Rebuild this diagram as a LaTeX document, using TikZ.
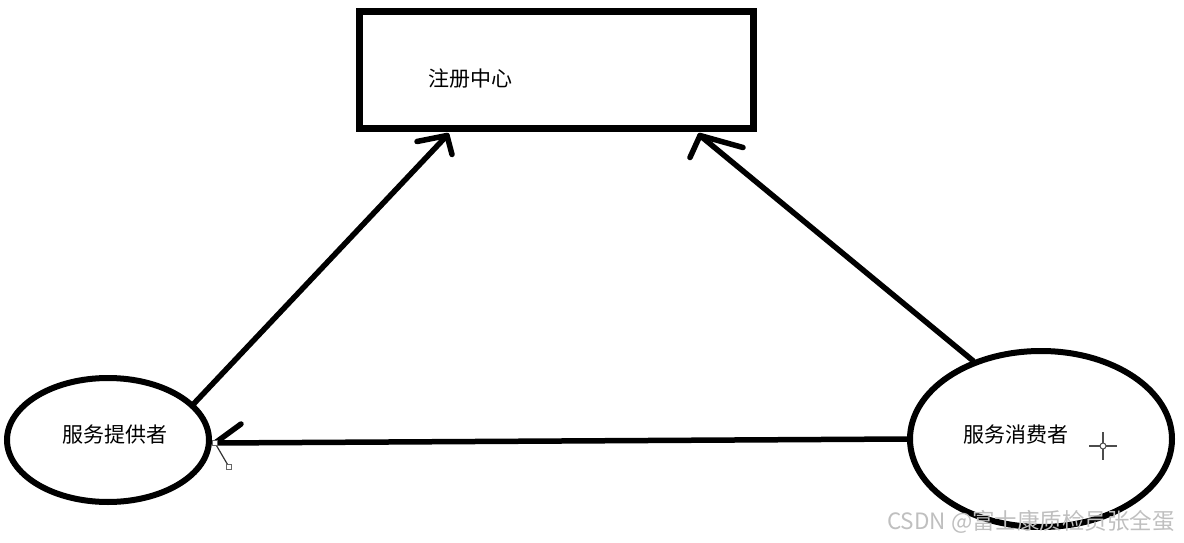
\documentclass[tikz,border=0pt]{standalone}
\usepackage{fontspec}
\newfontfamily\cjk{Noto Sans CJK SC}
\usetikzlibrary{shapes.geometric,calc}
\begin{document}
\begin{tikzpicture}[x=1pt,y=-1pt,
  box/.style={draw,line width=7pt,minimum width=394pt,minimum height=116pt,inner sep=0pt},
  oval/.style={draw,ellipse,line width=6pt,inner sep=0pt},
  lbl/.style={font=\cjk\fontsize{21}{24}\selectfont,inner sep=0pt},
  conn/.style={line width=5.5pt,line cap=round,line join=round}]
\useasboundingbox (0,0) rectangle (1184,543);
\node[box] (reg) at (556,70) {};
\node[oval,minimum width=202pt,minimum height=124pt] (lp) at (108,440) {};
\node[oval,minimum width=262pt,minimum height=176pt] (rc) at (1041,439) {};
\node[lbl] (regt) at (470,79) {注册中心};
\node[lbl] (lpt) at (115,435) {服务提供者};
\node[lbl] (rct) at (1016,435) {服务消费者};
\coordinate (t1) at ($(reg.south)+(-109,4)$);
\coordinate (t2) at ($(reg.south)+(144,4)$);
\coordinate (t3) at ($(lp.east)+(3,3)$);
\draw[conn] (lp.23) -- (t1);
\draw[conn] ($(t1)+(-30,6)$) -- (t1) -- ($(t1)+(5,19)$);
\draw[conn] (rc.131) -- (t2);
\draw[conn] ($(t2)+(-10,22)$) -- (t2) -- ($(t2)+(43,12)$);
\draw[conn] (rc.west) -- (t3);
\draw[conn] ($(t3)+(26,-19)$) -- (t3);
% selection handles
\draw[black!80,line width=1.2pt] (t3) -- ($(t3)+(14,24)$);
\draw[black!60,fill=white,line width=0.6pt] ($(t3)+(-2.5,-2.5)$) rectangle ($(t3)+(2.5,2.5)$);
\draw[black!60,fill=white,line width=0.6pt] ($(t3)+(11.5,21.5)$) rectangle ($(t3)+(16.5,26.5)$);
% cursor
\coordinate (cur) at (1103,446);
\draw[black!70,line width=1.5pt] ($(cur)+(-14,0)$) -- ($(cur)+(-3,0)$) ($(cur)+(3,0)$) -- ($(cur)+(14,0)$)
  ($(cur)+(0,-14)$) -- ($(cur)+(0,-3)$) ($(cur)+(0,3)$) -- ($(cur)+(0,14)$);
\draw[black!70,line width=1pt] (cur) circle (3pt);
\node[anchor=west,text=black!25,font=\cjk\fontsize{22.5}{26}\selectfont,inner sep=0pt] (wm) at (887,522) {CSDN @富士康质检员张全蛋};
\end{tikzpicture}
\end{document}
